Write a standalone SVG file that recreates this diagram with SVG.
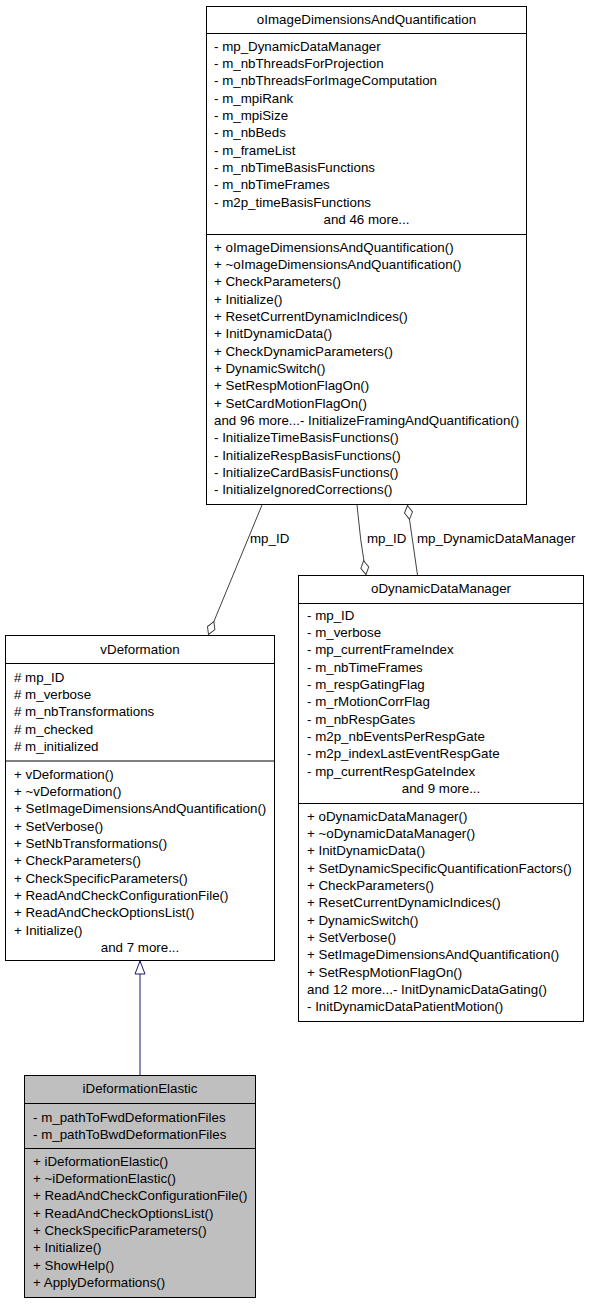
<svg xmlns="http://www.w3.org/2000/svg" width="589" height="1304" viewBox="0 0 589 1304">
<style>
text{font-family:"Liberation Sans",Arial,Helvetica,sans-serif;font-size:13.33px;fill:#000}
.c{text-anchor:middle}
.box{fill:#fff;stroke:#000;stroke-width:1}
.cur{fill:#bfbfbf;stroke:#000;stroke-width:1}
.sep{stroke:#000;stroke-width:1}
.assoc{fill:none;stroke:#404040;stroke-width:1}
.inh{fill:none;stroke:#191970;stroke-width:1}
</style>
<defs>
<marker id="diamond" viewBox="-1 -1 16 10" refX="14" refY="4" markerWidth="16" markerHeight="10" markerUnits="userSpaceOnUse" orient="auto">
<path d="M0,4 L7,0 L14,4 L7,8 Z" fill="#fff" stroke="#404040" stroke-width="1"/>
</marker>
<marker id="tri" viewBox="-1 -1 15 12" refX="13" refY="5" markerWidth="15" markerHeight="12" markerUnits="userSpaceOnUse" orient="auto">
<path d="M0,0 L13,5 L0,10 Z" fill="#fff" stroke="#191970" stroke-width="1"/>
</marker>
</defs>

<g id="connectors">
<path class="inh" d="M140,1075 L140,961" marker-end="url(#tri)"/>
<path class="assoc" d="M262,505 L208.5,634.5" marker-end="url(#diamond)"/>
<text x="250" y="542.5">mp_ID</text>
<path class="assoc" d="M357,505 Q360,540 366,574.5" marker-end="url(#diamond)"/>
<text x="367" y="542.5">mp_ID</text>
<path class="assoc" d="M417.5,575 L407.5,505.5" marker-end="url(#diamond)"/>
<text x="417" y="542.5">mp_DynamicDataManager</text>
</g>

<g id="oImageDimensionsAndQuantification">
<rect class="box" x="206.5" y="6.5" width="320" height="498"/>
<text class="c" x="366.5" y="24">oImageDimensionsAndQuantification</text>
<line class="sep" x1="206.5" y1="33.5" x2="526.5" y2="33.5"/>
<text x="214" y="50.5">- mp_DynamicDataManager</text>
<text x="214" y="67.85">- m_nbThreadsForProjection</text>
<text x="214" y="85.2">- m_nbThreadsForImageComputation</text>
<text x="214" y="102.55">- m_mpiRank</text>
<text x="214" y="119.9">- m_mpiSize</text>
<text x="214" y="137.25">- m_nbBeds</text>
<text x="214" y="154.6">- m_frameList</text>
<text x="214" y="171.95">- m_nbTimeBasisFunctions</text>
<text x="214" y="189.3">- m_nbTimeFrames</text>
<text x="214" y="206.65">- m2p_timeBasisFunctions</text>
<text class="c" x="366.5" y="224">and 46 more...</text>
<line class="sep" x1="206.5" y1="234.5" x2="526.5" y2="234.5"/>
<text x="214" y="251.5">+ oImageDimensionsAndQuantification()</text>
<text x="214" y="268.85">+ ~oImageDimensionsAndQuantification()</text>
<text x="214" y="286.2">+ CheckParameters()</text>
<text x="214" y="303.55">+ Initialize()</text>
<text x="214" y="320.9">+ ResetCurrentDynamicIndices()</text>
<text x="214" y="338.25">+ InitDynamicData()</text>
<text x="214" y="355.6">+ CheckDynamicParameters()</text>
<text x="214" y="372.95">+ DynamicSwitch()</text>
<text x="214" y="390.3">+ SetRespMotionFlagOn()</text>
<text x="214" y="407.65">+ SetCardMotionFlagOn()</text>
<text x="214" y="425">and 96 more...- InitializeFramingAndQuantification()</text>
<text x="214" y="442.35">- InitializeTimeBasisFunctions()</text>
<text x="214" y="459.7">- InitializeRespBasisFunctions()</text>
<text x="214" y="477.05">- InitializeCardBasisFunctions()</text>
<text x="214" y="494.4">- InitializeIgnoredCorrections()</text>
</g>

<g id="vDeformation">
<rect class="box" x="5.5" y="635.5" width="269" height="325"/>
<text class="c" x="140" y="653.5">vDeformation</text>
<line class="sep" x1="5.5" y1="663.5" x2="274.5" y2="663.5"/>
<text x="14" y="681.5"># mp_ID</text>
<text x="14" y="698.85"># m_verbose</text>
<text x="14" y="716.2"># m_nbTransformations</text>
<text x="14" y="733.55"># m_checked</text>
<text x="14" y="750.9"># m_initialized</text>
<line class="sep" x1="5.5" y1="761" x2="274.5" y2="761"/>
<text x="14" y="778.5">+ vDeformation()</text>
<text x="14" y="795.85">+ ~vDeformation()</text>
<text x="14" y="813.2">+ SetImageDimensionsAndQuantification()</text>
<text x="14" y="830.55">+ SetVerbose()</text>
<text x="14" y="847.9">+ SetNbTransformations()</text>
<text x="14" y="865.25">+ CheckParameters()</text>
<text x="14" y="882.6">+ CheckSpecificParameters()</text>
<text x="14" y="899.95">+ ReadAndCheckConfigurationFile()</text>
<text x="14" y="917.3">+ ReadAndCheckOptionsList()</text>
<text x="14" y="934.65">+ Initialize()</text>
<text class="c" x="140" y="952">and 7 more...</text>
</g>

<g id="oDynamicDataManager">
<rect class="box" x="298.5" y="575.5" width="285" height="446"/>
<text class="c" x="441" y="592.5">oDynamicDataManager</text>
<line class="sep" x1="298.5" y1="603.5" x2="583.5" y2="603.5"/>
<text x="307" y="619.5">- mp_ID</text>
<text x="307" y="636.85">- m_verbose</text>
<text x="307" y="654.2">- mp_currentFrameIndex</text>
<text x="307" y="671.55">- m_nbTimeFrames</text>
<text x="307" y="688.9">- m_respGatingFlag</text>
<text x="307" y="706.25">- m_rMotionCorrFlag</text>
<text x="307" y="723.6">- m_nbRespGates</text>
<text x="307" y="740.95">- m2p_nbEventsPerRespGate</text>
<text x="307" y="758.3">- m2p_indexLastEventRespGate</text>
<text x="307" y="775.65">- mp_currentRespGateIndex</text>
<text class="c" x="441" y="793">and 9 more...</text>
<line class="sep" x1="298.5" y1="803.5" x2="583.5" y2="803.5"/>
<text x="307" y="820.5">+ oDynamicDataManager()</text>
<text x="307" y="837.85">+ ~oDynamicDataManager()</text>
<text x="307" y="855.2">+ InitDynamicData()</text>
<text x="307" y="872.55">+ SetDynamicSpecificQuantificationFactors()</text>
<text x="307" y="889.9">+ CheckParameters()</text>
<text x="307" y="907.25">+ ResetCurrentDynamicIndices()</text>
<text x="307" y="924.6">+ DynamicSwitch()</text>
<text x="307" y="941.95">+ SetVerbose()</text>
<text x="307" y="959.3">+ SetImageDimensionsAndQuantification()</text>
<text x="307" y="976.65">+ SetRespMotionFlagOn()</text>
<text x="307" y="994">and 12 more...- InitDynamicDataGating()</text>
<text x="307" y="1011.35">- InitDynamicDataPatientMotion()</text>
</g>

<g id="iDeformationElastic">
<rect class="cur" x="24.5" y="1075.5" width="231" height="222"/>
<text class="c" x="140" y="1092.5">iDeformationElastic</text>
<line class="sep" x1="24.5" y1="1103.5" x2="255.5" y2="1103.5"/>
<text x="33" y="1121.5">- m_pathToFwdDeformationFiles</text>
<text x="33" y="1138.5">- m_pathToBwdDeformationFiles</text>
<line class="sep" x1="24.5" y1="1148.5" x2="255.5" y2="1148.5"/>
<text x="33" y="1165.5">+ iDeformationElastic()</text>
<text x="33" y="1182.85">+ ~iDeformationElastic()</text>
<text x="33" y="1200.2">+ ReadAndCheckConfigurationFile()</text>
<text x="33" y="1217.55">+ ReadAndCheckOptionsList()</text>
<text x="33" y="1234.9">+ CheckSpecificParameters()</text>
<text x="33" y="1252.25">+ Initialize()</text>
<text x="33" y="1269.6">+ ShowHelp()</text>
<text x="33" y="1286.95">+ ApplyDeformations()</text>
</g>
</svg>
